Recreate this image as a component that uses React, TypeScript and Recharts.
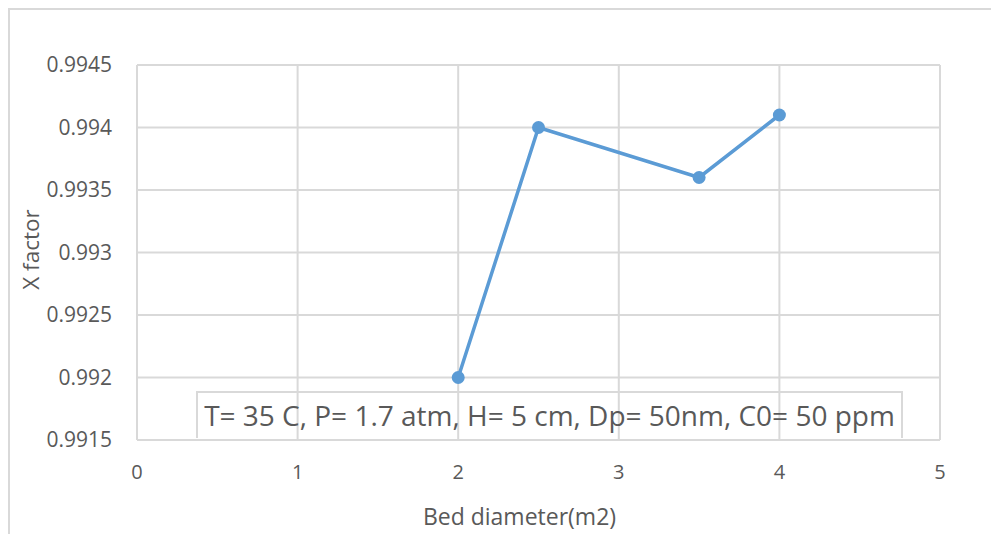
import { LineChart, Line, XAxis, YAxis, CartesianGrid } from "recharts"

const bedDiameter = [2, 2.5, 3.5, 4]
const xFactor = [0.992, 0.994, 0.9936, 0.9941]
const xTicks = [0, 1, 2, 3, 4, 5]
const yTicks = [0.9915, 0.992, 0.9925, 0.993, 0.9935, 0.994, 0.9945]
const note = "T= 35 C, P= 1.7 atm, H= 5 cm, Dp= 50nm, C0= 50 ppm"

const data = bedDiameter.map((x, i) => ({ x, y: xFactor[i] }))

const FONT = "'Open Sans', sans-serif"
const GRID = "#d9d9d9"
const TEXT = "#595959"
const BLUE = "#5b9bd5"

const YTitle = ({ viewBox }: any) => {
  const cx = viewBox.x + 20
  const cy = viewBox.y + viewBox.height / 2 - 3
  return (
    <text
      x={cx}
      y={cy}
      transform={`rotate(-90, ${cx}, ${cy})`}
      textAnchor="middle"
      dominantBaseline="central"
      fill={TEXT}
      fontSize={22.5}
      fontFamily={FONT}
    >
      X factor
    </text>
  )
}

const XTitle = ({ viewBox }: any) => (
  <text
    x={viewBox.x + viewBox.width / 2 - 19}
    y={viewBox.y + 85}
    textAnchor="middle"
    fill={TEXT}
    fontSize={23}
    fontFamily={FONT}
  >
    Bed diameter(m2)
  </text>
)

export default function App() {
  return (
    <div
      style={{
        position: "relative",
        width: 983,
        height: 526,
        borderLeft: `2px solid ${GRID}`,
        borderTop: `2px solid ${GRID}`,
        boxSizing: "border-box",
        fontFamily: FONT,
      }}
    >
      <LineChart
        width={981}
        height={524}
        data={data}
        margin={{ top: 55, right: 51, bottom: 0, left: 0 }}
      >
        <CartesianGrid stroke={GRID} strokeWidth={2} />
        <XAxis
          dataKey="x"
          type="number"
          domain={[0, 5]}
          ticks={xTicks}
          interval={0}
          tickLine={false}
          tickSize={0}
          tickMargin={25}
          axisLine={{ stroke: GRID, strokeWidth: 2 }}
          tick={{ fill: TEXT, fontSize: 20, fontFamily: FONT }}
          height={94}
          label={<XTitle />}
        />
        <YAxis
          type="number"
          domain={[0.9915, 0.9945]}
          ticks={yTicks}
          interval={0}
          tickLine={false}
          axisLine={false}
          tickSize={0}
          tickMargin={25}
          width={127}
          allowDataOverflow
          tick={{ fill: TEXT, fontSize: 21, fontFamily: FONT }}
          label={<YTitle />}
        />
        <Line
          dataKey="y"
          stroke={BLUE}
          strokeWidth={3.5}
          dot={{ r: 6.5, fill: BLUE, stroke: BLUE, strokeWidth: 0 }}
          isAnimationActive={false}
        />
      </LineChart>
      <div
        style={{
          position: "absolute",
          left: 186,
          top: 381,
          width: 707,
          height: 47,
          border: `2px solid ${GRID}`,
          borderBottom: "none",
          boxSizing: "border-box",
          color: TEXT,
          fontSize: 28,
          lineHeight: "45px",
          textAlign: "center",
          whiteSpace: "nowrap",
        }}
      >
        {note}
      </div>
    </div>
  )
}
